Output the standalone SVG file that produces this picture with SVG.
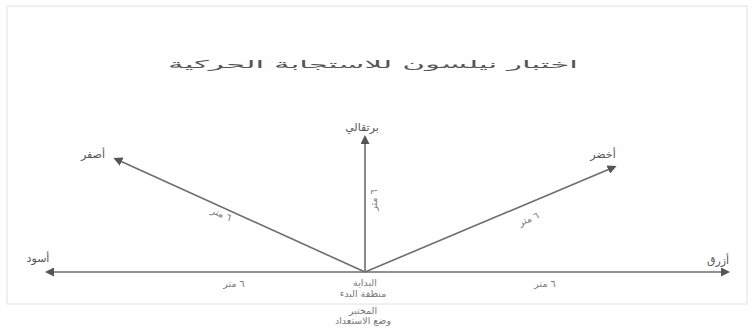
<svg xmlns="http://www.w3.org/2000/svg" width="752" height="334" viewBox="0 0 752 334">
<style>
.t{font-family:"DejaVu Sans","Noto Sans",sans-serif;fill:#555;text-anchor:middle;font-size:11px}
.s{font-size:9.5px;fill:#777}
.ln{stroke:#6d6d6d;stroke-width:1.6;fill:none}
</style>
<defs>
<marker id="ah" markerWidth="9" markerHeight="9" refX="4" refY="4.5" orient="auto" markerUnits="userSpaceOnUse">
<path d="M0,0 L9,4.5 L0,9 Z" fill="#555"/>
</marker>
</defs>
<rect x="0" y="0" width="752" height="334" fill="#fff"/>
<rect x="7" y="6" width="740" height="298" fill="none" stroke="#e2e2e2" stroke-width="1"/>
<text class="t" x="373" y="68" font-size="16" textLength="410" lengthAdjust="spacingAndGlyphs">اختبار نيلسون للاستجابة الحركية</text>
<g id="connectors">
<line class="ln" x1="365" y1="272" x2="50" y2="272" marker-end="url(#ah)"/>
<line class="ln" x1="365" y1="272" x2="725" y2="272" marker-end="url(#ah)"/>
<line class="ln" x1="365" y1="272" x2="118" y2="160" marker-end="url(#ah)"/>
<line class="ln" x1="365" y1="272" x2="612" y2="168" marker-end="url(#ah)"/>
<line class="ln" x1="365" y1="272" x2="365" y2="140" stroke-width="2.6" marker-end="url(#ah)"/>
<text class="t s" x="234" y="287">٦ متر</text>
<text class="t s" x="545" y="287">٦ متر</text>
<text class="t s" x="220" y="217" transform="rotate(24 220 217)">٦ متر</text>
<text class="t s" x="530" y="222" transform="rotate(-23 530 222)">٦ متر</text>
<text class="t s" x="377" y="200" transform="rotate(-90 377 200)">٦ متر</text>
</g>
<g id="n-left"><text class="t" x="38" y="262">أسود</text></g>
<g id="n-right"><text class="t" x="718" y="264">أزرق</text></g>
<g id="n-topleft"><text class="t" x="93" y="158">أصفر</text></g>
<g id="n-top"><text class="t" x="362" y="131">برتقالي</text></g>
<g id="n-topright"><text class="t" x="603" y="158">أخضر</text></g>
<g id="n-start">
<text class="t s" x="365" y="286">البداية</text>
<text class="t s" x="363" y="297">منطقة البدء</text>
<text class="t s" x="363" y="314">المختبر</text>
<text class="t s" x="363" y="324">وضع الاستعداد</text>
</g>
</svg>
